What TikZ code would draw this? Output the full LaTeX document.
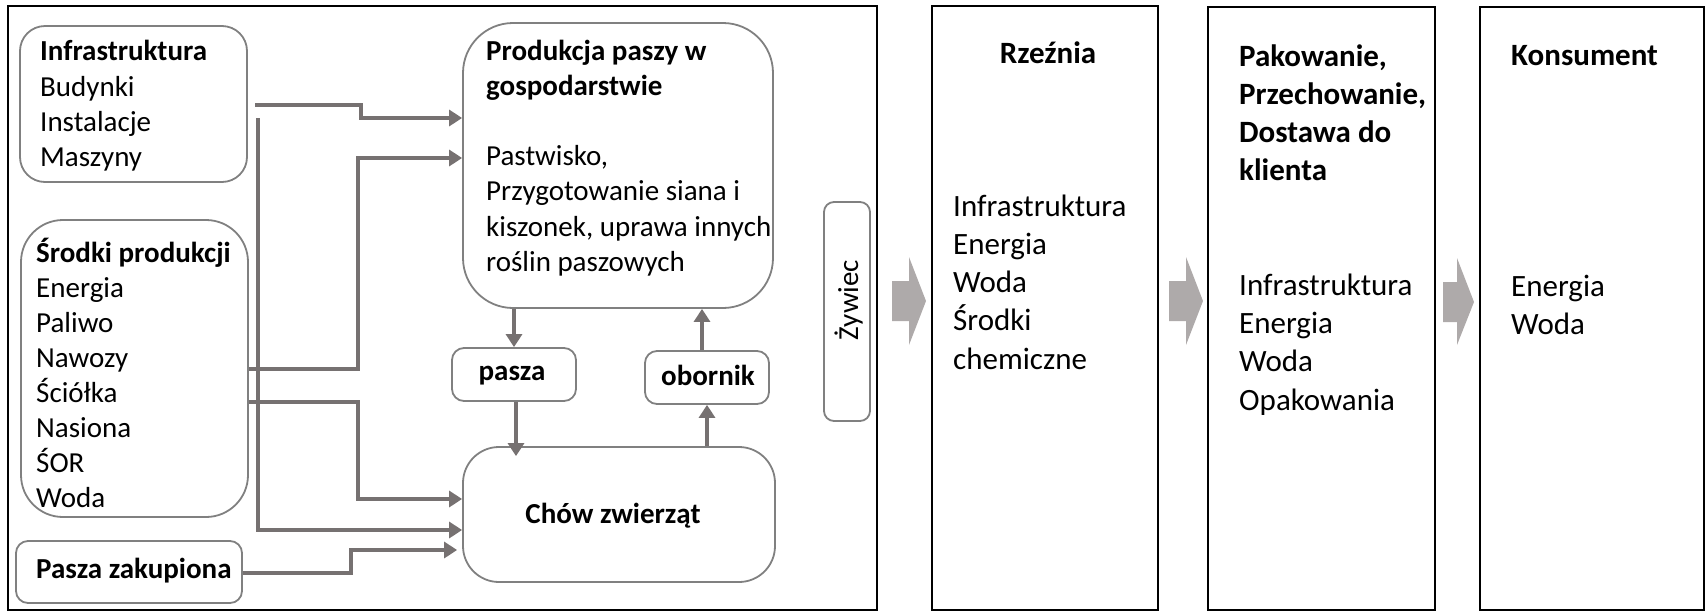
\documentclass[tikz,border=0pt]{standalone}
\usepackage{fontspec}
\setmainfont{Carlito}
\usetikzlibrary{arrows.meta}
\definecolor{linegray}{HTML}{767171}
\definecolor{boxgray}{HTML}{808080}
\definecolor{blockgray}{HTML}{AEAAAA}
\begin{document}
\begin{tikzpicture}[x=1pt,y=-1pt,
  rbox/.style={draw=boxgray, line width=1.8pt, rounded corners=#1, inner sep=0pt},
  fbox/.style={draw=black, line width=2pt, inner sep=0pt},
  conn/.style={draw=linegray, line width=4.8pt, -{Triangle[length=13pt,width=16pt]}},
  txt/.style={inner sep=0pt, anchor=base west, font=\fontsize{29}{35}\selectfont},
  btxt/.style={inner sep=0pt, anchor=base west, font=\fontsize{29}{35}\selectfont\bfseries},
  rtxt/.style={inner sep=0pt, anchor=base west, font=\fontsize{31}{38}\selectfont},
  rbtxt/.style={inner sep=0pt, anchor=base west, font=\fontsize{31}{38}\selectfont\bfseries},
  blockarrow/.style={fill=blockgray, draw=none}
]
\useasboundingbox (0,0) rectangle (1705,611);

% frames
\node[fbox, minimum width=869pt, minimum height=604pt] (farm) at (442.5,308) {};
\node[fbox, minimum width=226pt, minimum height=604pt] (rzez) at (1045,308) {};
\node[fbox, minimum width=227pt, minimum height=603pt] (pak) at (1321.5,308.5) {};
\node[fbox, minimum width=224pt, minimum height=603pt] (kons) at (1592,308.5) {};

% rounded boxes
\node[rbox=25pt, minimum width=227pt, minimum height=156pt] (inf) at (133.5,104) {};
\node[rbox=42pt, minimum width=227pt, minimum height=297pt] (srod) at (134.5,368.5) {};
\node[rbox=12pt, minimum width=226pt, minimum height=62pt] (zak) at (129,572) {};
\node[rbox=50pt, minimum width=310pt, minimum height=285pt] (prod) at (618,165.5) {};
\node[rbox=12pt, minimum width=124pt, minimum height=53pt] (pasza) at (514,374.5) {};
\node[rbox=12pt, minimum width=124pt, minimum height=53pt] (obor) at (707,377.5) {};
\node[rbox=36pt, minimum width=312pt, minimum height=135pt] (chow) at (619,514.5) {};
\node[rbox=10pt, minimum width=46pt, minimum height=219pt] (zyw) at (847,311.5) {};

% texts left
\node[btxt] (infT) at (40,60) {Infrastruktura};
\foreach \t [count=\i] in {Budynki,Instalacje,Maszyny}
  \node[txt] (infL\i) at (40,61+35*\i) {\t};
\node[btxt] (srodT) at (36,262) {Środki produkcji};
\foreach \t [count=\i] in {Energia,Paliwo,Nawozy,Ściółka,Nasiona,ŚOR,Woda}
  \node[txt] (srodL\i) at (36,262+35*\i) {\t};
\node[btxt] (zakT) at (36,578) {Pasza zakupiona};

\node[btxt] (prodT1) at (486,60) {Produkcja paszy w};
\node[btxt] (prodT2) at (486,95) {gospodarstwie};
\foreach \t [count=\i] in {{Pastwisko,},{Przygotowanie siana i},{kiszonek, uprawa innych},{roślin paszowych}}
  \node[txt] (prodL\i) at (486,130.5+35.2*\i) {\t};

\node[btxt, anchor=base] (paszaT) at (512,380) {pasza};
\node[btxt, anchor=base] (oborT) at (708,385) {obornik};
\node[btxt, anchor=base] (chowT) at (613,523) {Chów zwierząt};
\node[txt, anchor=base, rotate=90] (zywT) at (858,300) {Żywiec};

% right texts
\node[rbtxt, anchor=base] (rzezT) at (1048,63) {Rzeźnia};
\foreach \t [count=\i] in {Infrastruktura,Energia,Woda,Środki,chemiczne}
  \node[rtxt] (rzezL\i) at (953,177.7+38.3*\i) {\t};
\foreach \t [count=\i] in {{Pakowanie,},{Przechowanie,},{Dostawa do},{klienta}}
  \node[rbtxt] (pakT\i) at (1239,28+38*\i) {\t};
\foreach \t [count=\i] in {Infrastruktura,Energia,Woda,Opakowania}
  \node[rtxt] (pakL\i) at (1239,257+38.3*\i) {\t};
\node[rbtxt] (konsT) at (1511,65) {Konsument};
\foreach \t [count=\i] in {Energia,Woda}
  \node[rtxt] (konsL\i) at (1511,258+38*\i) {\t};

% block arrows
\fill[blockarrow] (892,281) -- (909,281) -- (909,257) -- (926,301) -- (909,345) -- (909,321) -- (892,321) -- cycle;
\fill[blockarrow] (1169,281) -- (1186,281) -- (1186,257) -- (1203,301) -- (1186,345) -- (1186,321) -- (1169,321) -- cycle;
\fill[blockarrow] (1443,282) -- (1457,282) -- (1457,258) -- (1474,302) -- (1457,345) -- (1457,322) -- (1443,322) -- cycle;

% connectors
\coordinate (c1s) at (255,105);
\coordinate (c2s) at (258,118);
\draw[conn] (c1s) -- (361,105) -- (361,118) -- (prod.west |- 0,118);
\draw[conn] (c2s) -- (258,530) -- (chow.west |- 0,530);
\draw[conn] (srod.east |- 0,369) -- (358,369) -- (358,158) -- (prod.west |- 0,158);
\draw[conn] (srod.east |- 0,402) -- (358,402) -- (358,499) -- (chow.west |- 0,499);
\draw[conn, shorten >=5pt] (zak.east |- 0,573) -- (351,573) -- (351,550) -- (chow.west |- 0,550);
\draw[conn] (prod.south -| 514,0) -- (pasza.north -| 514,0);
\draw[conn, shorten >=-10pt] (pasza.south -| 516,0) -- (chow.north -| 516,0);
\draw[conn] (chow.north -| 707,0) -- (obor.south -| 707,0);
\draw[conn] (obor.north -| 702,0) -- (prod.south -| 702,0);
\end{tikzpicture}
\end{document}
